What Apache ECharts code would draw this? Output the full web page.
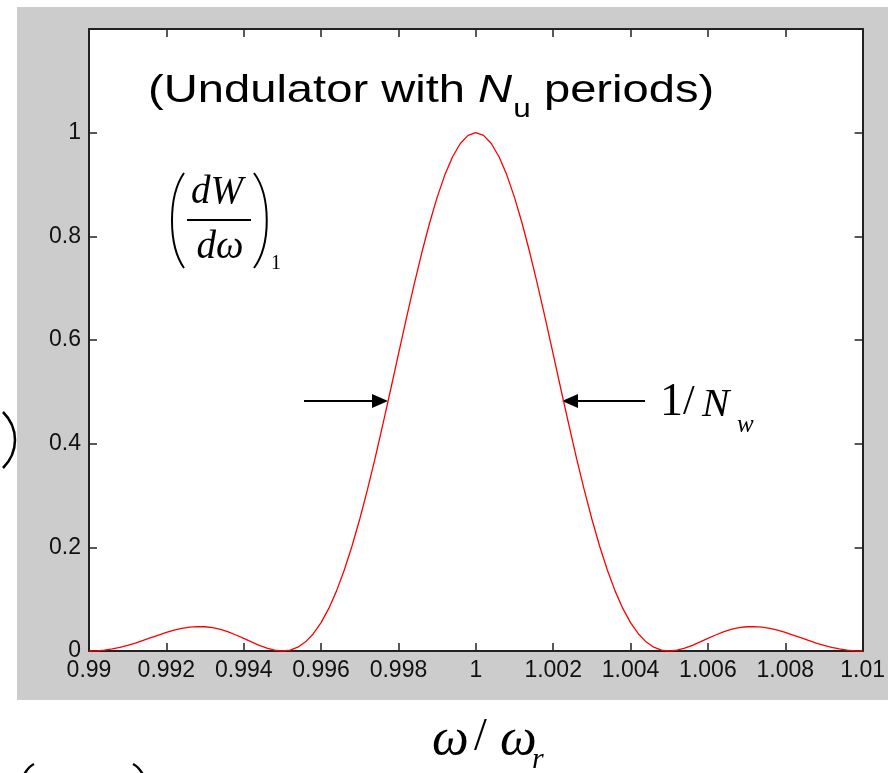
<!DOCTYPE html>
<html>
<head>
<meta charset="utf-8">
<script src="https://cdn.jsdelivr.net/npm/echarts@6/dist/echarts.min.js"></script>
<style>
html,body{margin:0;padding:0;background:#fff;}
#chart{width:888px;height:773px;}
</style>
</head>
<body>
<div id="chart"></div>
<script>
// ---- data ----
var freq = [
0.9900,0.9902,0.9904,0.9906,0.9908,0.9910,0.9912,0.9914,0.9916,0.9918,
0.9920,0.9922,0.9924,0.9926,0.9928,0.9930,0.9932,0.9934,0.9936,0.9938,
0.9940,0.9942,0.9944,0.9946,0.9948,0.9950,0.9952,0.9954,0.9956,0.9958,
0.9960,0.9962,0.9964,0.9966,0.9968,0.9970,0.9972,0.9974,0.9976,0.9978,
0.9980,0.9982,0.9984,0.9986,0.9988,0.9990,0.9992,0.9994,0.9996,0.9998,
1.0000,
1.0002,1.0004,1.0006,1.0008,1.0010,1.0012,1.0014,1.0016,1.0018,1.0020,
1.0022,1.0024,1.0026,1.0028,1.0030,1.0032,1.0034,1.0036,1.0038,1.0040,
1.0042,1.0044,1.0046,1.0048,1.0050,1.0052,1.0054,1.0056,1.0058,1.0060,
1.0062,1.0064,1.0066,1.0068,1.0070,1.0072,1.0074,1.0076,1.0078,1.0080,
1.0082,1.0084,1.0086,1.0088,1.0090,1.0092,1.0094,1.0096,1.0098,1.0100
];
var power = [
0.0000,0.0004,0.0017,0.0039,0.0070,0.0108,0.0153,0.0203,0.0256,0.0308,
0.0358,0.0402,0.0437,0.0461,0.0472,0.0468,0.0449,0.0415,0.0367,0.0309,
0.0243,0.0175,0.0110,0.0054,0.0015,0.0000,0.0017,0.0074,0.0177,0.0333,
0.0547,0.0822,0.1160,0.1562,0.2025,0.2546,0.3118,0.3732,0.4380,0.5050,
0.5728,0.6401,0.7054,0.7673,0.8243,0.8751,0.9186,0.9535,0.9791,0.9948,
1.0000,
0.9948,0.9791,0.9535,0.9186,0.8751,0.8243,0.7673,0.7054,0.6401,0.5728,
0.5050,0.4380,0.3732,0.3118,0.2546,0.2025,0.1562,0.1160,0.0822,0.0547,
0.0333,0.0177,0.0074,0.0017,0.0000,0.0015,0.0054,0.0110,0.0175,0.0243,
0.0309,0.0367,0.0415,0.0449,0.0468,0.0472,0.0461,0.0437,0.0402,0.0358,
0.0308,0.0256,0.0203,0.0153,0.0108,0.0070,0.0039,0.0017,0.0004,0.0000
];
var xTickLabels = ['0.99','0.992','0.994','0.996','0.998','1','1.002','1.004','1.006','1.008','1.01'];
var yTickLabels = ['0','0.2','0.4','0.6','0.8','1',''];
var xMin = 0.99, xMax = 1.01, xStep = 0.002;
var yMin = 0, yMax = 1.2, yStep = 0.2;

// ---- helpers ----
var ctx = document.createElement('canvas').getContext('2d');
function tw(text, font){ ctx.font = font; return ctx.measureText(text).width; }

var AX = '#222222';
var SANS = '"Liberation Sans", Arial, sans-serif';
var SERIF = '"Liberation Serif", "Times New Roman", serif';

function xFmt(v){ var i = Math.round((v - xMin)/xStep); return xTickLabels[i] !== undefined ? xTickLabels[i] : ''; }
function yFmt(v){ var i = Math.round((v - yMin)/yStep); return yTickLabels[i] !== undefined ? yTickLabels[i] : ''; }

function axisBase(pos, showLabel, fmt, isX){
  return {
    type:'value', position:pos,
    min: isX ? xMin : yMin, max: isX ? xMax : yMax, interval: isX ? xStep : yStep,
    axisLine:{show:true, onZero:false, lineStyle:{color:AX, width:2}},
    axisTick:{show:true, inside:true, length:8, lineStyle:{color:AX, width:1.5}},
    axisLabel:{show:showLabel, formatter:fmt, fontSize:23, color:'#111111',
      fontFamily:SANS, margin:8, showMaxLabel: isX ? true : false, showMinLabel:true},
    splitLine:{show:false}
  };
}

// title pieces (stretched horizontally as in the reference)
var fT = '39px ' + SANS, fTi = 'italic 39px ' + SANS, fTs = '26px ' + SANS;
var t1 = '(Undulator with ', t2 = 'N', t3 = 'u', t4 = ' periods)';
var w1 = tw(t1, fT), w2 = tw(t2, fTi), w3 = tw(t3, fTs);
var titleScale = 565 / (w1 + w2 + w3 + tw(t4, fT));

var chart = echarts.init(document.getElementById('chart'), null, {renderer:'canvas'});
chart.setOption({
  backgroundColor:'#ffffff',
  animation:false,
  grid:{left:89, right:18, top:29, bottom:122, show:true, backgroundColor:'#ffffff', borderWidth:0, containLabel:false},
  xAxis:[ axisBase('bottom', true, xFmt, true), axisBase('top', false, xFmt, true) ],
  yAxis:[ axisBase('left', true, yFmt, false), axisBase('right', false, yFmt, false) ],
  series:[{
    type:'line', xAxisIndex:0, yAxisIndex:0,
    data: freq.map(function(f, i){ return [f, power[i]]; }),
    showSymbol:false, smooth:false,
    lineStyle:{color:'#ff0000', width:1.3},
    z:5
  }],
  graphic:[
    {type:'rect', z:-10, silent:true, shape:{x:17, y:7, width:871, height:693}, style:{fill:'#cccccc'}},
    // title
    {type:'group', x:148, y:0, scaleX:titleScale, children:[
      {type:'text', style:{x:0, y:91, text:t1, font:fT, fill:'#000', verticalAlign:'middle'}},
      {type:'text', style:{x:w1, y:91, text:t2, font:fTi, fill:'#000', verticalAlign:'middle'}},
      {type:'text', style:{x:w1+w2+1, y:110, text:t3, font:fTs, fill:'#000', verticalAlign:'middle'}},
      {type:'text', style:{x:w1+w2+w3+1, y:91, text:t4, font:fT, fill:'#000', verticalAlign:'middle'}}
    ]},
    // (dW/dω)_1
    {type:'bezierCurve', shape:{x1:184, y1:173, x2:184, y2:268, cpx1:168, cpy1:196, cpx2:168, cpy2:245}, style:{stroke:'#000', lineWidth:2, fill:null}},
    {type:'bezierCurve', shape:{x1:254, y1:173, x2:254, y2:268, cpx1:271, cpy1:196, cpx2:271, cpy2:245}, style:{stroke:'#000', lineWidth:2, fill:null}},
    {type:'text', style:{x:217, y:193, text:'dW', font:'italic 39px ' + SERIF, fill:'#000', align:'center', verticalAlign:'middle'}},
    {type:'line', shape:{x1:187, y1:220, x2:251, y2:220}, style:{stroke:'#000', lineWidth:2}},
    {type:'text', style:{x:220, y:248, text:'dω', font:'italic 39px ' + SERIF, fill:'#000', align:'center', verticalAlign:'middle'}},
    {type:'text', style:{x:271, y:264, text:'1', font:'20px ' + SERIF, fill:'#000', verticalAlign:'middle'}},
    // arrows
    {type:'line', shape:{x1:304, y1:401, x2:376, y2:401}, style:{stroke:'#000', lineWidth:2}},
    {type:'polygon', shape:{points:[[388,401],[372,394],[372,408]]}, style:{fill:'#000'}},
    {type:'line', shape:{x1:574, y1:401, x2:645, y2:401}, style:{stroke:'#000', lineWidth:2}},
    {type:'polygon', shape:{points:[[562,401],[578,394],[578,408]]}, style:{fill:'#000'}},
    // 1/N_w
    {type:'text', style:{x:660, y:403, text:'1', font:'46px ' + SERIF, fill:'#000', verticalAlign:'middle'}},
    {type:'text', style:{x:683, y:403, text:'/', font:'42px ' + SERIF, fill:'#000', verticalAlign:'middle'}},
    {type:'text', style:{x:702, y:405, text:'N', font:'italic 41px ' + SERIF, fill:'#000', verticalAlign:'middle'}},
    {type:'text', style:{x:737, y:425, text:'w', font:'italic 25px ' + SERIF, fill:'#000', verticalAlign:'middle'}},
    // ω/ω_r
    {type:'text', style:{x:432, y:740, text:'ω', font:'italic 52px ' + SERIF, fill:'#000', verticalAlign:'middle'}},
    {type:'text', style:{x:474, y:738, text:'/', font:'46px ' + SERIF, fill:'#000', verticalAlign:'middle'}},
    {type:'text', style:{x:500, y:740, text:'ω', font:'italic 52px ' + SERIF, fill:'#000', verticalAlign:'middle'}},
    {type:'text', style:{x:532, y:760, text:'r', font:'italic 30px ' + SERIF, fill:'#000', verticalAlign:'middle'}},
    // cropped brackets at the edges
    {type:'bezierCurve', shape:{x1:3, y1:412, x2:3, y2:468, cpx1:19, cpy1:428, cpx2:19, cpy2:452}, style:{stroke:'#000', lineWidth:2.5, fill:null}},
    {type:'bezierCurve', shape:{x1:34, y1:764, x2:20, y2:785, cpx1:28, cpy1:767, cpx2:23, cpy2:775}, style:{stroke:'#000', lineWidth:2.5, fill:null}},
    {type:'bezierCurve', shape:{x1:133, y1:764, x2:147, y2:785, cpx1:139, cpy1:767, cpx2:144, cpy2:775}, style:{stroke:'#000', lineWidth:2.5, fill:null}}
  ]
});
</script>
</body>
</html>
